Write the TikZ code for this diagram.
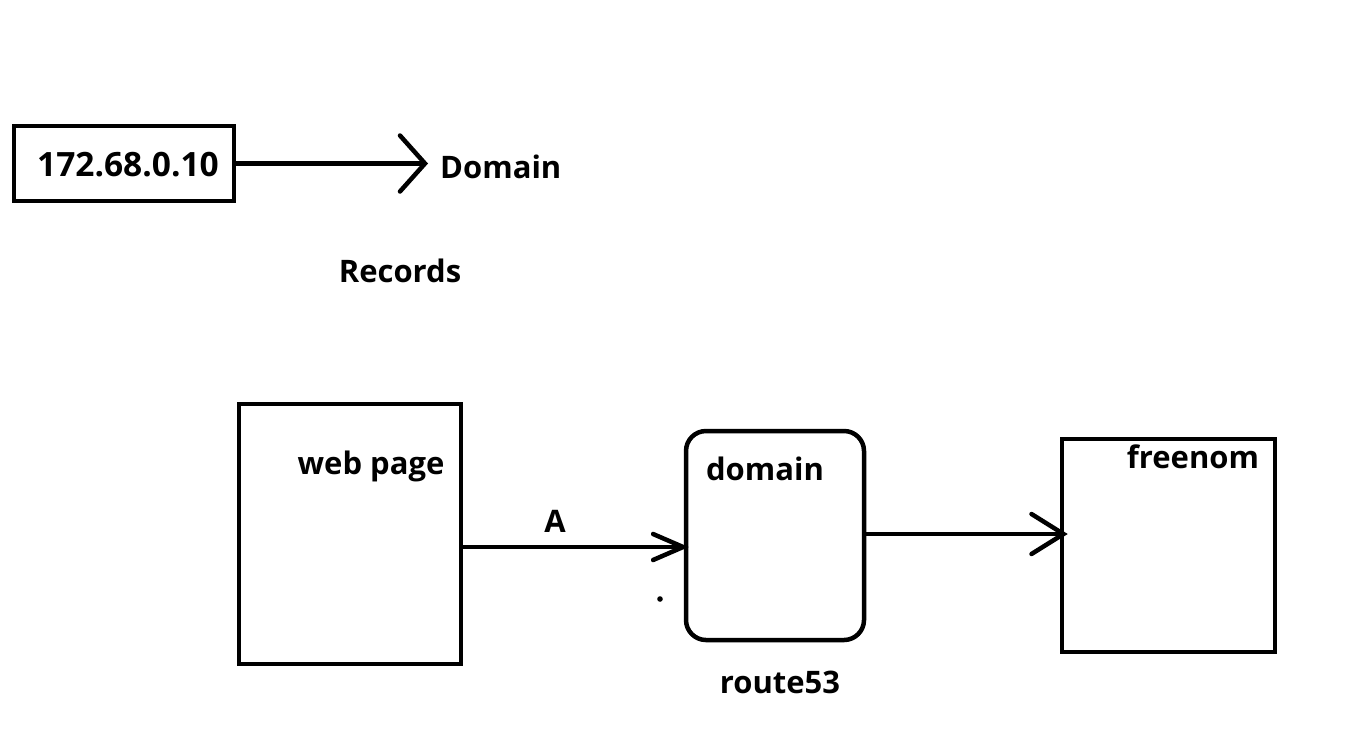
\documentclass[tikz,border=0pt]{standalone}
\usepackage{fontspec}
\setmainfont{Open Sans}
\usetikzlibrary{arrows.meta}
\tikzset{
  box/.style={draw, line width=4.5pt, inner sep=0pt},
  lbl/.style={inner sep=0pt, font=\fontsize{31}{36}\selectfont\bfseries},
  conn/.style={line width=4.5pt},
}
\begin{document}
\begin{tikzpicture}[x=1pt,y=-1pt]
\useasboundingbox (0,0) rectangle (1372,748);
% top part
\node[box, minimum width=220pt, minimum height=75pt] (ip) at (124,163.5) {};
\node[lbl, font=\fontsize{33.5}{38}\selectfont\bfseries] (iptext) at (128,165) {172.68.0.10};
\node[lbl, anchor=west] (dlbl) at (440,167) {Domain};
\node[lbl] (rec) at (400,271) {Records};
\draw[conn, -{Straight Barb[length=25pt,width=56pt,line cap=round]}] (ip.east) -- ([xshift=-12pt]ip.east -| dlbl.west);
% bottom part
\node[box, minimum width=222pt, minimum height=260pt] (web) at (350,534) {};
\node[lbl] (webtext) at (371,466) {web page};
\node[box, rounded corners=20pt, minimum width=178pt, minimum height=209pt] (dom) at (775,535.5) {};
\node[lbl] (domtext) at (765,469) {domain};
\node[lbl] (r53) at (780,682) {route53};
\node[box, minimum width=213pt, minimum height=213pt] (free) at (1168.5,545.5) {};
\node[lbl] (freetext) at (1193,457) {freenom};
\node[lbl] (atext) at (555,521) {A};
\fill (660,599) circle (2.8pt);
\coordinate (ya) at (0,547);
\coordinate (yb) at (0,534);
\draw[conn, -{Straight Barb[length=30pt,width=26pt,line cap=round]}] (web.east |- ya) -- ([xshift=5pt]dom.west |- ya);
\draw[conn, -{Straight Barb[length=32pt,width=40pt,line cap=round]}] (dom.east |- yb) -- ([xshift=8pt]free.west |- yb);
\end{tikzpicture}
\end{document}
